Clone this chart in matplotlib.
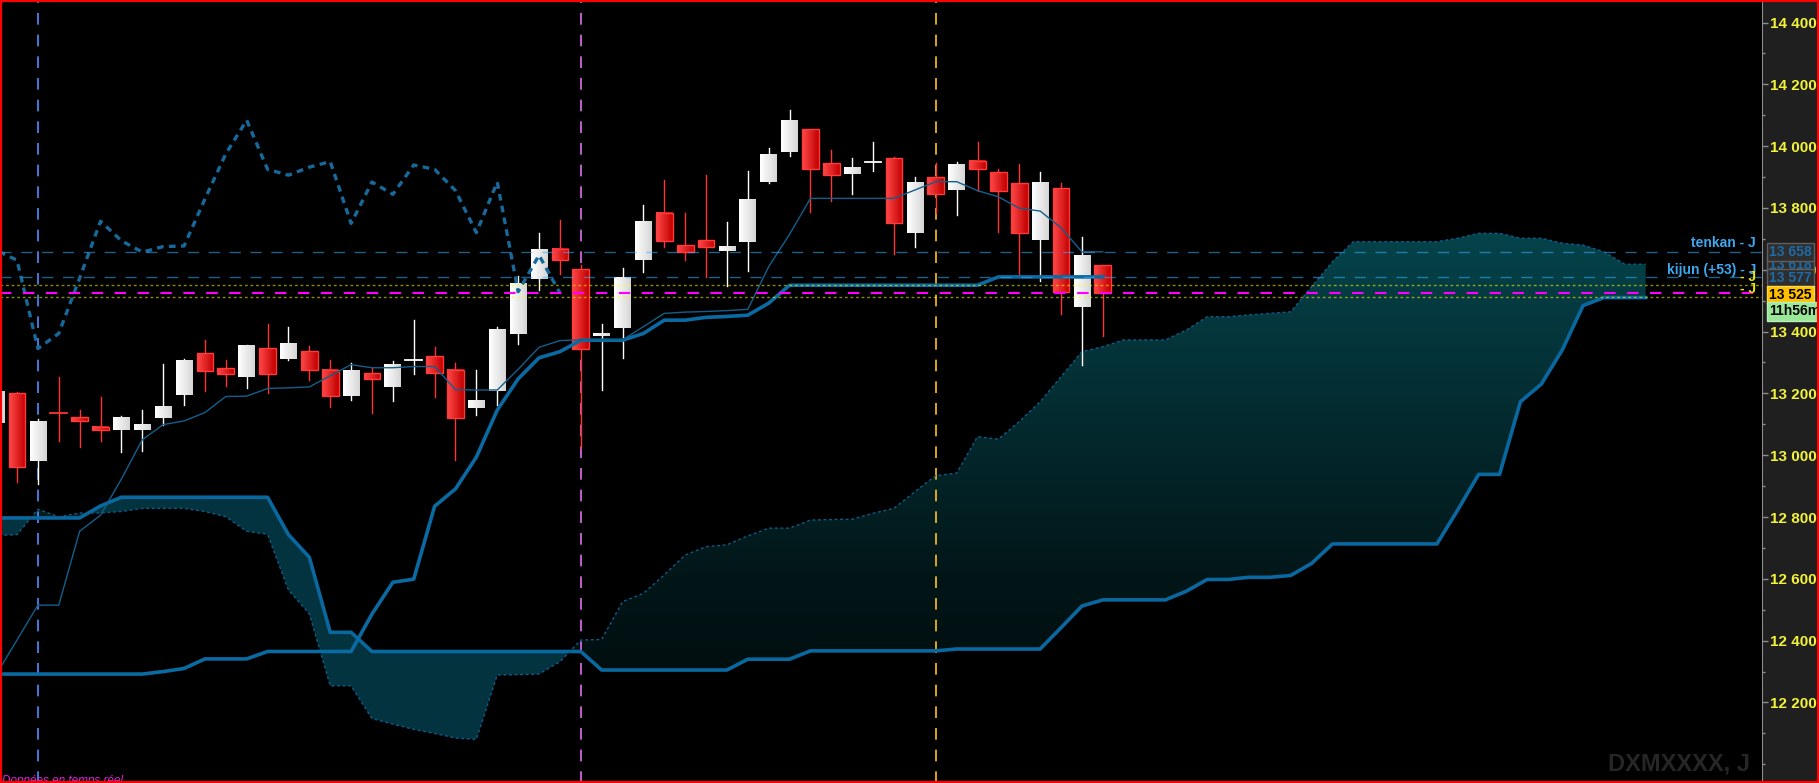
import numpy as np
import matplotlib
matplotlib.use('Agg')
import matplotlib.pyplot as plt
import matplotlib.transforms as mtransforms
from matplotlib.colors import LinearSegmentedColormap
from matplotlib.patches import Rectangle
from matplotlib.path import Path

plt.rcParams['font.family'] = ['Liberation Sans', 'DejaVu Sans']

# daily bars, index -1 .. 52 (first one only half visible)
bars = list(range(-1, 53))
opens = [13104, 13201, 12980, 13137, 13123, 13091, 13083, 13083, 13122, 13195,
         13331, 13281, 13252, 13346, 13312, 13336, 13277, 13191, 13266, 13222,
         13307, 13321, 13276, 13154, 13209, 13393, 13569, 13667, 13603, 13387,
         13411, 13631, 13785, 13679, 13695, 13662, 13690, 13885, 13982, 14054,
         13944, 13911, 13948, 13960, 13720, 13899, 13858, 13951, 13915, 13880,
         13697, 13863, 13481, 13614]
highs = [13210, 13205, 13116, 13253, 13146, 13188, 13126, 13146, 13294, 13312,
         13373, 13308, 13355, 13425, 13415, 13353, 13308, 13297, 13281, 13304,
         13438, 13350, 13297, 13276, 13415, 13579, 13720, 13762, 13614, 13423,
         13606, 13810, 13890, 13783, 13907, 13755, 13920, 13994, 14117, 14056,
         13987, 13961, 14013, 13966, 13900, 13946, 13948, 14013, 13925, 13942,
         13916, 13880, 13705, 13614]
lows = [13100, 12912, 12906, 13047, 13025, 13047, 13011, 13015, 13098, 13163,
        13207, 13224, 13217, 13202, 13308, 13243, 13156, 13178, 13135, 13177,
        13262, 13187, 12983, 13129, 13163, 13360, 13534, 13586, 13024, 13210,
        13316, 13593, 13675, 13633, 13575, 13549, 13597, 13880, 13969, 13788,
        13824, 13846, 13921, 13651, 13675, 13785, 13778, 13855, 13723, 13581,
        13565, 13458, 13292, 13385]
closes = [13205, 12963, 13108, 13135, 13112, 13080, 13123, 13101, 13159, 13308,
          13274, 13262, 13353, 13262, 13363, 13277, 13190, 13273, 13248, 13294,
          13309, 13267, 13119, 13177, 13408, 13558, 13663, 13631, 13345, 13394,
          13573, 13757, 13694, 13657, 13675, 13677, 13829, 13975, 14084, 13925,
          13906, 13932, 13950, 13750, 13884, 13844, 13939, 13925, 13856, 13720,
          13884, 13529, 13647, 13525]

tenkan = [12290, 12402, 12515, 12515, 12754, 12806, 12923, 13050, 13099, 13111,
          13138, 13190, 13191, 13216, 13218, 13221, 13257, 13293, 13283, 13283,
          13287, 13287, 13212, 13211, 13211, 13278, 13349, 13371, 13373, 13373,
          13373, 13416, 13459, 13463, 13465, 13468, 13472, 13610, 13715, 13831,
          13831, 13831, 13831, 13831, 13858, 13885, 13885, 13856, 13836, 13799,
          13790, 13736, 13658, 13658]
kijun = [12292, 12292, 12292, 12292, 12292, 12292, 12292, 12292, 12300, 12310,
         12341, 12341, 12341, 12365, 12365, 12365, 12365, 12365, 12486, 12589,
         12599, 12835, 12891, 12994, 13146, 13247, 13315, 13335, 13372, 13372,
         13372, 13394, 13437, 13437, 13446, 13449, 13453, 13492, 13550, 13550,
         13550, 13550, 13550, 13550, 13550, 13550, 13550, 13550, 13577, 13577,
         13577, 13577, 13577, 13577]

# cloud, index -1 .. 78 (projected 26 bars ahead)
cloud_idx = list(range(-1, 79))
senkou_a = [12740, 12743, 12825, 12801, 12813, 12813, 12818, 12828, 12828, 12828,
            12818, 12801, 12754, 12744, 12564, 12487, 12254, 12254, 12148, 12130,
            12113, 12100, 12085, 12081, 12289, 12290, 12292, 12332, 12402, 12404,
            12526, 12553, 12613, 12677, 12704, 12710, 12739, 12764, 12764, 12790,
            12792, 12793, 12812, 12828, 12882, 12934, 12942, 13060, 13052, 13109,
            13173, 13254, 13335, 13351, 13373, 13373, 13373, 13405, 13448, 13448,
            13454, 13459, 13464, 13545, 13626, 13691, 13691, 13691, 13691, 13691,
            13702, 13718, 13718, 13702, 13702, 13686, 13680, 13658, 13618, 13618]
senkou_b = [12797, 12797, 12797, 12797, 12797, 12836, 12864, 12864, 12864, 12864,
            12864, 12864, 12864, 12864, 12743, 12670, 12427, 12427, 12365, 12365,
            12365, 12365, 12365, 12365, 12365, 12365, 12365, 12365, 12365, 12305,
            12305, 12305, 12305, 12305, 12305, 12305, 12340, 12340, 12340, 12367,
            12367, 12367, 12367, 12367, 12367, 12367, 12373, 12373, 12373, 12373,
            12373, 12442, 12512, 12532, 12532, 12532, 12532, 12560, 12598, 12598,
            12605, 12605, 12611, 12650, 12713, 12713, 12713, 12713, 12713, 12713,
            12823, 12938, 12938, 13173, 13230, 13340, 13484, 13510, 13510, 13510]

price_ticks = list(range(12200, 14401, 200))
tenkan_last = 13658
kijun_last = 13577
senkou_a_last = 13618
last_close = 13525
level_lines = [13550, 13511]
event_bars = [1, 27, 44]
event_colors = ['#4d8fff', '#e070f0', '#ffc21a']

W, H = 1819, 783
PLOT_W = 1762
YMIN, YMAX = 11939.5, 14472.8

fig = plt.figure(figsize=(W / 100, H / 100), dpi=100, facecolor='black')
ax = fig.add_axes([0, 0, PLOT_W / W, 1], facecolor='black')
fig.add_artist(Rectangle((PLOT_W / W, 0), 1 - PLOT_W / W, 1, transform=fig.transFigure,
                         fc='#1f1f1f', ec='none', zorder=-1))

# cloud
xc = np.array(cloud_idx)
A = np.array(senkou_a, dtype=float)
B = np.array(senkou_b, dtype=float)
bull = ax.fill_between(xc, A, B, where=A >= B, interpolate=True,
                       facecolor='none', edgecolor='none')
clip = Path.make_compound_path(*bull.get_paths())
cloud_cm = LinearSegmentedColormap.from_list(
    'cloud', [(0, '#000505'), (0.26, '#021618'), (0.7, '#05434a'), (1, '#06525a')])
im = ax.imshow(np.linspace(0, 1, 256).reshape(-1, 1), extent=(xc[0], xc[-1], YMIN, YMAX),
               origin='lower', aspect='auto', cmap=cloud_cm, zorder=1, interpolation='bilinear')
im.set_clip_path(clip, transform=ax.transData)
ax.fill_between(xc, A, B, where=B > A, interpolate=True, color='#03333f', lw=0, zorder=1)

# event markers
for b, col in zip(event_bars, event_colors):
    ax.axvline(b, color=col, lw=1.2, ls=(0, (7, 6)), zorder=2)

# candles
bull_cm = LinearSegmentedColormap.from_list('bull', ['#ffffff', '#d6d6d6'])
bear_cm = LinearSegmentedColormap.from_list('bear', ['#ff4848', '#c20000'])
w = 0.8
grad = np.linspace(0, 1, 32).reshape(1, -1)
for i, o, h, l, c in zip(bars, opens, highs, lows, closes):
    up = c >= o
    wick = '#ffffff' if up else '#ff3333'
    ax.plot([i, i], [l, h], color=wick, lw=1, zorder=3)
    lo, hi = min(o, c), max(o, c)
    if hi - lo < 5:
        ax.plot([i - w / 2, i + w / 2], [(lo + hi) / 2] * 2, color=wick, lw=1.3, zorder=3.2)
        continue
    ax.imshow(grad, extent=(i - w / 2, i + w / 2, lo, hi), cmap=bull_cm if up else bear_cm,
              aspect='auto', zorder=3.1, interpolation='bilinear')
    if not up:
        ax.add_patch(Rectangle((i - w / 2, lo), w, hi - lo, fill=False, ec='#ff3a3a',
                               lw=1, zorder=3.2))

# ichimoku lines
ax.plot(xc, B, color='#0a68a0', lw=2.6, zorder=4)
ax.plot(xc, A, color='#0d5d8c', lw=1, ls=(0, (2, 2)), zorder=4)
ax.plot(bars, kijun, color='#0a6aa2', lw=2.6, zorder=5)
ax.plot(bars, tenkan, color='#135f8c', lw=1.0, zorder=5)
ax.plot(bars[:28], closes[26:], color='#17699b', lw=2.4, ls=(0, (2, 1.6)), zorder=5)

# level lines
for lv in (tenkan_last, kijun_last):
    ax.axhline(lv, color='#3ab0ff', alpha=0.55, lw=1, ls=(0, (8, 7)), zorder=6)
for lv in level_lines:
    ax.axhline(lv, color='#ffff00', alpha=0.55, lw=1, ls=(0, (2, 2)), zorder=6)
ax.axhline(last_close, color='#ff00ff', lw=1.5, ls=(0, (5.5, 5.5)), zorder=6)

ax.set_xticks([])
ax.yaxis.tick_right()
ax.set_yticks(price_ticks)
ax.set_yticklabels([f'{p:,}'.replace(',', ' ') for p in price_ticks])
ax.set_yticks(np.arange(12000, 14401, 100), minor=True)
ax.set_xlim(-0.814, 83.57)
ax.set_ylim(YMIN, YMAX)
ax.tick_params(axis='y', which='major', direction='out', length=4, width=1,
               color='#8c8c8c', pad=1.5, labelsize=11, labelcolor='#f2f23a')
ax.tick_params(axis='y', which='minor', direction='out', length=2.5, width=1, color='#8c8c8c')
for lab in ax.get_yticklabels():
    lab.set_fontweight('bold')
for s in ('top', 'left', 'bottom'):
    ax.spines[s].set_visible(False)
ax.spines['right'].set_color('#8c8c8c')

tr = mtransforms.blended_transform_factory(ax.transAxes, ax.transData)
lx = 1756 / PLOT_W
ax.text(lx, 13687, 'tenkan - J', transform=tr, ha='right', va='center',
        color='#3ca8f0', fontsize=10, fontweight='bold', zorder=7)
ax.text(lx, 13598, 'kijun (+53) - J', transform=tr, ha='right', va='center',
        color='#3ca8f0', fontsize=10, fontweight='bold', zorder=7)
ax.text(lx, 13575, '- J', transform=tr, ha='right', va='center',
        color='#e8e800', fontsize=10, fontweight='bold', zorder=7)
ax.text(lx, 13539, '- J', transform=tr, ha='right', va='center',
        color='#e8e800', fontsize=10, fontweight='bold', zorder=7)

bx = 1769 / PLOT_W
boxes = [
    (13615, f'{senkou_a_last:,}'.replace(',', ' '), '#1e6aa6', '#2e2e2e', '#5e5e5e'),
    (13657, f'{tenkan_last:,}'.replace(',', ' '), '#1e6aa6', '#2e2e2e', '#5e5e5e'),
    (13573, f'{kijun_last:,}'.replace(',', ' '), '#1e6aa6', '#2e2e2e', '#5e5e5e'),
    (13519, f'{last_close:,}'.replace(',', ' '), '#000000', '#ffc000', '#ffd84a'),
    (13465, '11h56m', '#000000', '#98e898', '#b8f0b8'),
]
for k, (y, txt, tc, fc, ec) in enumerate(boxes):
    ax.text(bx, y, txt, transform=tr, ha='left', va='center', fontsize=10,
            fontweight='bold', color=tc, clip_on=False, zorder=8 + k * 0.1,
            bbox=dict(boxstyle='square,pad=0.15', fc=fc, ec=ec, lw=1))

fig.text(1750 / W, 1 - 764 / H, 'DXMXXXX, J', ha='right', va='center',
         fontsize=17, fontweight='bold', color='#262626')
fig.text(2 / W, 1 - 775 / H, 'Données en temps réel', ha='left', va='top',
         fontsize=8.5, style='italic', color='#e020e0')
fig.add_artist(Rectangle((0, 0), 1, 1, transform=fig.transFigure, fill=False,
                         ec='#ff0000', lw=3, zorder=20))

fig.savefig('out.png', dpi=100, facecolor='black')
